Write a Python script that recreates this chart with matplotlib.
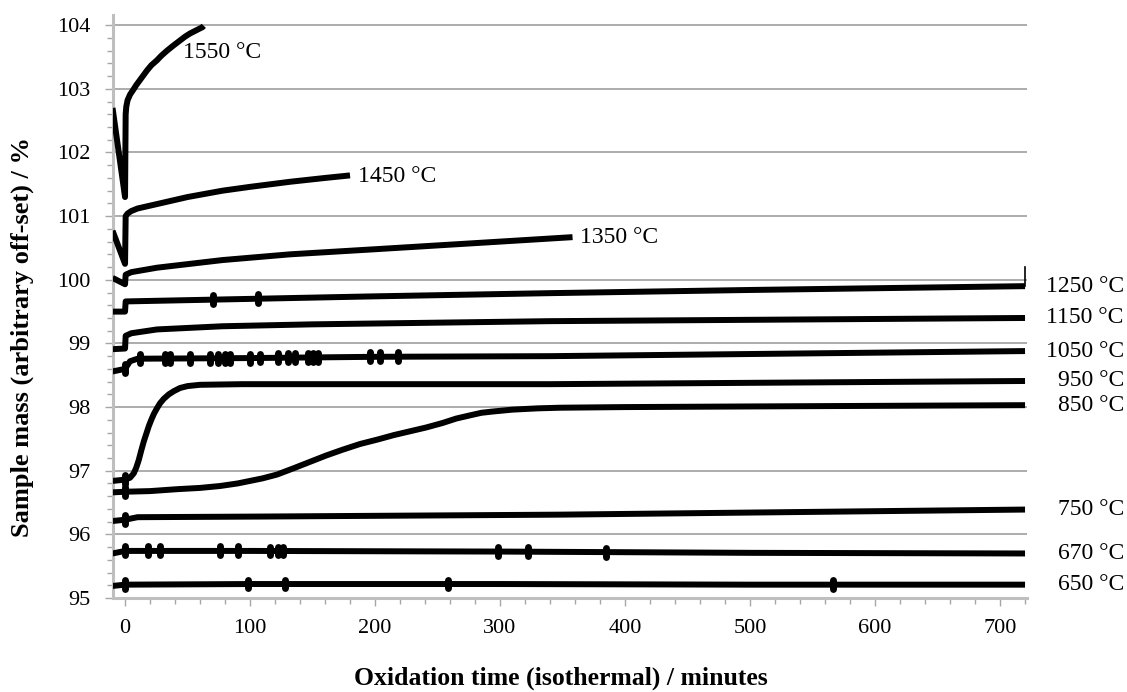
"""
等温氧化实验：不同温度下样品质量随时间变化 (各曲线人为错开)
"""

import numpy as np
import matplotlib.pyplot as plt
from matplotlib.ticker import MultipleLocator

plt.rcParams['font.family'] = ['Liberation Serif', 'DejaVu Serif']

# 各温度曲线 (时间 / min, 质量 / %)
t1550 = [-10, 0, 0.5, 1, 2, 4, 6.4, 9, 12, 15, 17.6, 21, 25.6, 29, 33.6, 38, 44, 48, 52, 57, 62, 63]
m1550 = [102.7, 101.3, 102.6, 102.72, 102.82, 102.91, 102.98, 103.06, 103.14, 103.22, 103.29, 103.37,
         103.45, 103.52, 103.6, 103.67, 103.76, 103.82, 103.87, 103.92, 103.97, 103.99]

t1450 = [-10, 0, 0.5, 2, 5, 10, 25.6, 50, 78, 100, 132, 160, 180]
m1450 = [100.77, 100.25, 101.0, 101.04, 101.08, 101.12, 101.19, 101.3, 101.4, 101.46, 101.54, 101.6, 101.64]

t1350 = [-10, 0, 0.5, 5, 25.6, 78, 132, 200, 250, 300, 358]
m1350 = [100.03, 99.93, 100.08, 100.12, 100.19, 100.31, 100.4, 100.48, 100.54, 100.6, 100.67]

t1250 = [-10, 0, 0.5, 50, 100, 200, 340, 500, 720]
m1250 = [99.5, 99.5, 99.66, 99.68, 99.7, 99.74, 99.79, 99.84, 99.9]
end_spike1250 = 100.2

t1150 = [-10, 0, 0.5, 5, 25.6, 78, 150, 340, 720]
m1150 = [98.91, 98.92, 99.12, 99.16, 99.22, 99.27, 99.3, 99.35, 99.4]

t1050 = [-10, 0, 4, 10, 100, 200, 340, 720]
m1050 = [98.56, 98.6, 98.72, 98.76, 98.77, 98.79, 98.8, 98.88]

t950 = [-10, 0, 4, 7, 9, 11, 13, 15, 17, 19, 21, 23, 25.5, 28, 31, 35, 39, 44, 50, 60, 94, 340, 720]
m950 = [96.84, 96.86, 96.89, 96.96, 97.05, 97.17, 97.32, 97.46, 97.58, 97.7, 97.8, 97.89, 97.98,
        98.06, 98.13, 98.2, 98.25, 98.3, 98.33, 98.35, 98.36, 98.36, 98.41]

t850 = [-10, 0, 20, 41.6, 60, 76, 90, 100, 110, 121.6, 135, 148, 161, 174, 188, 202, 215, 228,
        241, 254, 265, 276, 285, 294, 310, 330, 348, 400, 500, 720]
m850 = [96.66, 96.67, 96.68, 96.71, 96.73, 96.76, 96.8, 96.84, 96.88, 96.94, 97.04, 97.14, 97.24,
        97.33, 97.42, 97.49, 97.56, 97.62, 97.68, 97.75, 97.82, 97.87, 97.91, 97.93, 97.96, 97.98,
        97.99, 98.0, 98.01, 98.03]

t750 = [-10, 0, 10, 108, 348, 720]
m750 = [96.21, 96.23, 96.27, 96.28, 96.31, 96.39]

t670 = [-10, 0, 100, 300, 500, 720]
m670 = [95.7, 95.74, 95.74, 95.73, 95.71, 95.7]

t650 = [-10, 0, 100, 300, 500, 720]
m650 = [95.19, 95.21, 95.22, 95.22, 95.21, 95.21]

# 噪声尖峰出现的时间点
blips1250 = [70, 106]
blips1050 = [0, 12, 32, 36, 52, 68, 74, 80, 84, 100, 108, 122, 130, 136, 146, 150, 154, 196, 204, 218]
blips950 = [0]
blips850 = [0]
blips750 = [0]
blips670 = [0, 18, 28, 76, 90, 116, 122, 126, 298, 322, 385]
blips650 = [0, 98, 128, 258, 566]

temps = ['1550 °C', '1450 °C', '1350 °C', '1250 °C', '1150 °C', '1050 °C',
         '950 °C', '850 °C', '750 °C', '670 °C', '650 °C']
inner_label_t = [46, 186, 364]
inner_label_m = [103.57, 101.63, 100.66]


def plot_curves():
    fig = plt.figure(figsize=(11.27, 6.92), dpi=100)
    ax = fig.add_axes([0.1003, 0.1358, 0.811, 0.8425])

    series = [(t1550, m1550, []), (t1450, m1450, []), (t1350, m1350, []),
              (t1250, m1250, blips1250), (t1150, m1150, []), (t1050, m1050, blips1050),
              (t950, m950, blips950), (t850, m850, blips850), (t750, m750, blips750),
              (t670, m670, blips670), (t650, m650, blips650)]

    for t, m, blips in series:
        ax.plot(t, m, color='black', lw=4.3, solid_joinstyle='round', solid_capstyle='butt', zorder=3)
        if blips:
            yb = np.interp(blips, t, m)
            ax.vlines(blips, yb - 0.07, yb + 0.07, color='black', lw=5, capstyle='round', zorder=3)

    # 1250 °C 末端的小竖线
    ax.plot([t1250[-1], t1250[-1]], [m1250[-1], end_spike1250], color='black', lw=1.2, zorder=3)

    # 曲线标签
    for i in range(3):
        ax.text(inner_label_t[i], inner_label_m[i], temps[i], fontsize=17, ha='left', va='center')
    for i, (t, m, _) in enumerate(series[3:]):
        ax.text(799, m[-1], temps[i + 3], fontsize=17, ha='right', va='center', clip_on=False)

    ax.set_xlim(-9.6, 721.6)
    ax.set_ylim(95, 104.16)
    ax.xaxis.set_major_locator(MultipleLocator(100))
    ax.xaxis.set_minor_locator(MultipleLocator(20))
    ax.yaxis.set_major_locator(MultipleLocator(1))
    ax.yaxis.set_minor_locator(MultipleLocator(0.2))
    ax.grid(axis='y', which='major', color='#a6a6a6', lw=1.3)
    ax.set_axisbelow(True)

    for s in ['top', 'right']:
        ax.spines[s].set_visible(False)
    for s in ['left', 'bottom']:
        ax.spines[s].set_color('#bfbfbf')
        ax.spines[s].set_linewidth(2.2)
    ax.tick_params(which='both', color='#a6a6a6', labelsize=16, direction='out')
    ax.tick_params(which='major', length=6, width=1)
    ax.tick_params(which='minor', length=4, width=1)
    ax.tick_params(axis='y', pad=10)
    ax.tick_params(axis='x', pad=9)

    ax.set_xlabel('Oxidation time (isothermal) / minutes', fontsize=18.5, fontweight='bold')
    ax.set_ylabel('Sample mass (arbitrary off-set) / %', fontsize=19, fontweight='bold')
    ax.xaxis.set_label_coords(0.49, -0.137)
    ax.xaxis.label.set_va('center')
    ax.yaxis.set_label_coords(-0.0996, 0.448)
    ax.yaxis.label.set_va('center')

    fig.savefig('out.png', dpi=100)


plot_curves()
